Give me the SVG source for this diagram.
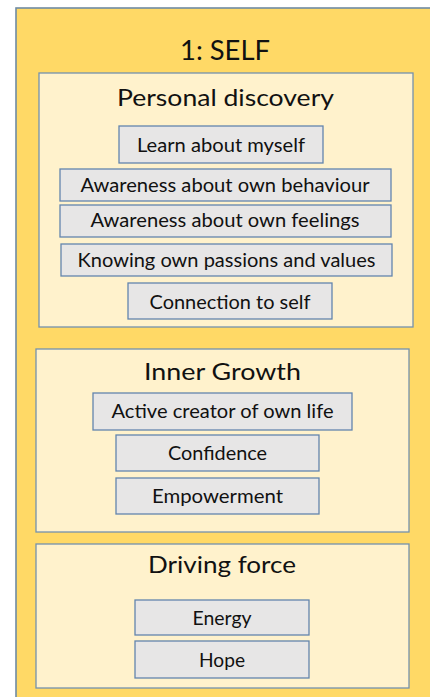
<svg xmlns="http://www.w3.org/2000/svg" width="430" height="697" viewBox="0 0 430 697">
  <style>
    .frame { fill: #FFD966; stroke: #6F8BA4; stroke-width: 1.6; }
    .panel { fill: #FFF2CC; stroke: #7391AE; stroke-width: 1.3; }
    .item { fill: #E7E6E6; stroke: #6385AE; stroke-width: 1.3; }
    text { font-family: Lato, "Open Sans", "Liberation Sans", sans-serif; fill: #111; text-anchor: middle; }
    .h0 { font-size: 26px; }
    .h1 { font-size: 23px; }
    .t { font-size: 18.5px; }
  </style>

  <!-- outer frame -->
  <g id="self">
    <rect class="frame" x="16" y="8" width="430" height="700"/>
    <text class="h0" x="225" y="60" textLength="90" lengthAdjust="spacingAndGlyphs">1: SELF</text>
  </g>

  <!-- Personal discovery -->
  <g id="personal-discovery">
    <rect class="panel" x="39" y="73" width="374" height="254"/>
    <text class="h1" x="225.5" y="106" textLength="217" lengthAdjust="spacingAndGlyphs">Personal discovery</text>
  </g>
  <g id="learn-about-myself">
    <rect class="item" x="119" y="126" width="204" height="37"/>
    <text class="t" x="221" y="151.5" textLength="168" lengthAdjust="spacingAndGlyphs">Learn about myself</text>
  </g>
  <g id="awareness-behaviour">
    <rect class="item" x="60" y="169" width="331" height="32"/>
    <text class="t" x="225" y="191.5" textLength="289" lengthAdjust="spacingAndGlyphs">Awareness about own behaviour</text>
  </g>
  <g id="awareness-feelings">
    <rect class="item" x="60" y="205" width="331" height="32"/>
    <text class="t" x="225" y="227.3" textLength="269" lengthAdjust="spacingAndGlyphs">Awareness about own feelings</text>
  </g>
  <g id="passions-values">
    <rect class="item" x="61" y="244" width="331" height="32"/>
    <text class="t" x="226.5" y="266.7" textLength="298" lengthAdjust="spacingAndGlyphs">Knowing own passions and values</text>
  </g>
  <g id="connection-to-self">
    <rect class="item" x="128" y="283" width="204" height="36"/>
    <text class="t" x="230" y="309" textLength="161" lengthAdjust="spacingAndGlyphs">Connection to self</text>
  </g>

  <!-- Inner Growth -->
  <g id="inner-growth">
    <rect class="panel" x="36" y="349" width="373" height="183"/>
    <text class="h1" x="222.5" y="380" textLength="157" lengthAdjust="spacingAndGlyphs">Inner Growth</text>
  </g>
  <g id="active-creator">
    <rect class="item" x="93" y="393" width="259" height="37"/>
    <text class="t" x="222.5" y="417.7" textLength="222" lengthAdjust="spacingAndGlyphs">Active creator of own life</text>
  </g>
  <g id="confidence">
    <rect class="item" x="116" y="435" width="203" height="36"/>
    <text class="t" x="217.5" y="460" textLength="99" lengthAdjust="spacingAndGlyphs">Confidence</text>
  </g>
  <g id="empowerment">
    <rect class="item" x="116" y="478" width="203" height="36"/>
    <text class="t" x="217.5" y="503.3" textLength="131" lengthAdjust="spacingAndGlyphs">Empowerment</text>
  </g>

  <!-- Driving force -->
  <g id="driving-force">
    <rect class="panel" x="36" y="544" width="373" height="144"/>
    <text class="h1" x="222" y="572.7" textLength="148" lengthAdjust="spacingAndGlyphs">Driving force</text>
  </g>
  <g id="energy">
    <rect class="item" x="135" y="600" width="174" height="35"/>
    <text class="t" x="222" y="625" textLength="59" lengthAdjust="spacingAndGlyphs">Energy</text>
  </g>
  <g id="hope">
    <rect class="item" x="135" y="641" width="174" height="37"/>
    <text class="t" x="222" y="666.7" textLength="46" lengthAdjust="spacingAndGlyphs">Hope</text>
  </g>

  <!-- no connectors are drawn between the nodes -->
  <g id="connectors"/>
</svg>
